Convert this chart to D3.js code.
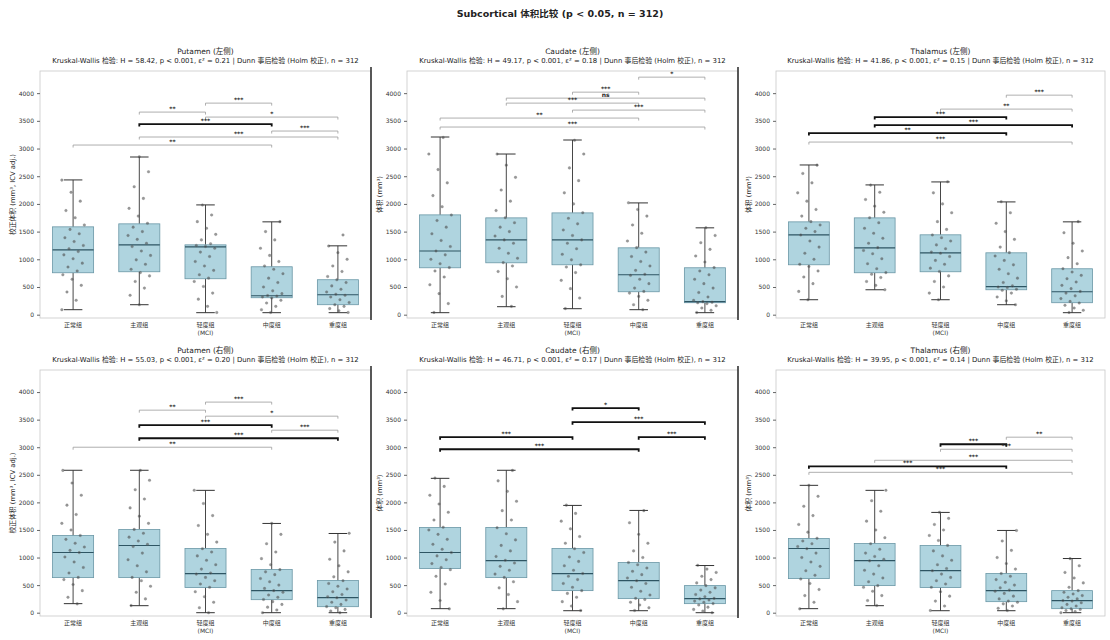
<!DOCTYPE html>
<html><head><meta charset="utf-8">
<script src="https://cdn.jsdelivr.net/npm/d3@7"></script>
<style>body{margin:0;background:#fff} text{font-family:"DejaVu Sans","Noto Sans CJK SC",sans-serif}</style>
</head><body><svg id="c" width="1110" height="640"></svg>
<script>
const mainTitle = "Subcortical 体积比较 (p < 0.05, n = 312)";
const groups = ["正常组", "主观组", "轻度组", "中度组", "重度组"];
const groupSub = ["", "", "(MCI)", "", ""];
const panelNames = ["Putamen (左侧)", "Caudate (左侧)", "Thalamus (左侧)", "Putamen (右侧)", "Caudate (右侧)", "Thalamus (右侧)"];
const panelStats = [
  "Kruskal-Wallis 检验: H = 58.42, p < 0.001, ε² = 0.21 | Dunn 事后检验 (Holm 校正), n = 312",
  "Kruskal-Wallis 检验: H = 49.17, p < 0.001, ε² = 0.18 | Dunn 事后检验 (Holm 校正), n = 312",
  "Kruskal-Wallis 检验: H = 41.86, p < 0.001, ε² = 0.15 | Dunn 事后检验 (Holm 校正), n = 312",
  "Kruskal-Wallis 检验: H = 55.03, p < 0.001, ε² = 0.20 | Dunn 事后检验 (Holm 校正), n = 312",
  "Kruskal-Wallis 检验: H = 46.71, p < 0.001, ε² = 0.17 | Dunn 事后检验 (Holm 校正), n = 312",
  "Kruskal-Wallis 检验: H = 39.95, p < 0.001, ε² = 0.14 | Dunn 事后检验 (Holm 校正), n = 312"
];
const yLabels = ["校正体积 (mm³, ICV adj.)", "体积 (mm³)", "体积 (mm³)", "校正体积 (mm³, ICV adj.)", "体积 (mm³)", "体积 (mm³)"];
const yTicks = [0, 500, 1000, 1500, 2000, 2500, 3000, 3500, 4000];

// box statistics per panel, per group
const q1 = [
  [757, 775, 649, 306, 180], [847, 937, 901, 414, 216], [901, 757, 775, 450, 216],
  [636, 636, 455, 236, 109], [800, 636, 400, 255, 164], [618, 491, 455, 200, 73]];
const med = [
  [1171, 1261, 1225, 342, 360], [1150, 1352, 1352, 721, 234], [1442, 1207, 1117, 505, 414],
  [1091, 1218, 709, 400, 273], [1091, 945, 709, 582, 255], [1164, 945, 764, 400, 218]];
const q3 = [
  [1586, 1640, 1261, 865, 631], [1802, 1748, 1838, 1207, 847], [1676, 1748, 1442, 1117, 829],
  [1400, 1509, 1164, 782, 582], [1545, 1545, 1164, 909, 491], [1345, 1254, 1218, 709, 400]];
const whiskLo = [
  [90, 180, 36, 36, 36], [36, 144, 108, 90, 36], [270, 450, 270, 180, 36],
  [164, 127, 0, 0, 0], [73, 73, 36, 36, 0], [73, 127, 36, 36, 0]];
const whiskHi = [
  [2433, 2847, 1982, 1676, 1243], [3208, 2901, 3154, 2018, 1568], [2703, 2343, 2397, 2036, 1676],
  [2582, 2582, 2218, 1618, 1436], [2436, 2582, 1945, 1854, 855], [2309, 2218, 1818, 1491, 982]];

// individual observations per panel, per group
const points = [
 ["90 260 410 530 640 720 790 860 930 1010 1080 1140 1190 1250 1320 1390 1460 1540 1620 1750 1880 2050 2210 2430",
  "180 350 480 600 700 760 820 910 990 1070 1150 1230 1290 1360 1430 1500 1580 1650 1780 1920 2100 2310 2580 2850",
  "40 150 280 390 510 600 660 720 800 880 960 1050 1130 1200 1230 1250 1280 1350 1450 1560 1680 1800 1980",
  "40 90 150 210 260 300 320 335 345 380 430 500 580 660 740 820 880 960 1070 1200 1350 1500 1680",
  "40 70 110 150 180 220 270 320 350 370 410 460 520 580 630 690 780 880 1000 1120 1240 1440"],
 ["40 200 380 540 680 790 850 920 1000 1080 1150 1230 1340 1460 1580 1700 1800 1950 2150 2380 2620 2900 3200",
  "150 330 500 650 780 880 940 1020 1110 1200 1290 1350 1420 1500 1580 1660 1750 1880 2050 2250 2480 2700 2900",
  "110 300 470 620 760 860 900 990 1090 1190 1290 1350 1430 1530 1640 1740 1840 2000 2200 2420 2650 2900 3150",
  "90 180 260 330 390 420 480 560 640 710 730 800 880 960 1050 1130 1210 1330 1470 1620 1780 1900 2020",
  "40 80 120 160 200 215 225 235 260 320 400 480 560 640 720 790 850 950 1060 1180 1300 1430 1570"],
 ["270 420 560 680 790 870 910 1000 1110 1220 1330 1440 1500 1560 1620 1680 1780 1900 2050 2200 2380 2550 2700",
  "450 530 600 670 730 760 830 920 1010 1100 1160 1210 1290 1380 1470 1560 1660 1750 1850 1960 2080 2210 2340",
  "270 390 500 600 700 780 840 910 980 1050 1110 1130 1190 1260 1330 1390 1440 1540 1680 1840 2000 2200 2400",
  "180 250 320 390 440 460 490 500 520 580 660 740 820 900 980 1060 1120 1220 1360 1500 1650 1840 2040",
  "40 80 120 170 210 240 290 340 390 420 470 530 590 650 710 770 830 920 1030 1150 1290 1480 1680"],
 ["160 280 400 510 600 640 720 820 920 1010 1090 1130 1190 1260 1330 1400 1500 1620 1780 1950 2130 2350 2580",
  "130 250 370 480 580 640 740 850 960 1080 1200 1240 1300 1370 1440 1510 1620 1750 1900 2060 2230 2400 2580",
  "0 90 190 290 380 460 520 580 640 700 720 790 870 950 1030 1100 1160 1280 1420 1580 1760 1980 2220",
  "0 50 100 150 200 240 280 320 370 400 440 500 560 620 690 740 780 870 980 1100 1250 1420 1620",
  "0 30 60 90 110 150 190 230 270 290 330 380 430 480 530 580 650 740 850 970 1120 1280 1440"],
 ["70 220 370 520 660 780 820 890 960 1030 1090 1150 1240 1330 1420 1500 1550 1680 1820 1970 2130 2290 2440",
  "70 200 330 450 560 640 700 770 840 900 950 1020 1120 1220 1320 1430 1540 1680 1850 2020 2200 2390 2580",
  "40 120 200 280 350 400 460 530 600 660 710 770 850 930 1010 1090 1160 1260 1380 1520 1660 1800 1950",
  "40 90 140 190 240 260 320 390 460 530 580 630 690 750 810 870 910 1000 1120 1260 1420 1630 1850",
  "0 30 60 100 140 165 190 210 230 250 260 290 330 370 410 450 490 540 600 660 730 790 860"],
 ["70 190 310 420 530 610 680 760 840 920 1000 1080 1160 1200 1250 1300 1350 1460 1600 1760 1930 2110 2310",
  "130 220 310 390 460 490 560 630 700 770 850 940 970 1020 1080 1150 1250 1360 1500 1660 1840 2030 2220",
  "40 120 210 300 380 460 520 580 640 700 760 800 870 950 1030 1120 1220 1310 1400 1500 1600 1710 1820",
  "40 80 120 160 190 210 250 300 350 390 410 450 500 550 600 660 710 790 890 1000 1130 1300 1490",
  "0 20 40 60 70 90 120 150 180 210 220 250 280 310 340 370 400 460 540 630 730 850 980"]
];

// significance brackets: [groupA, groupB, height (data units), label, bold]
const brackets = [
 [[2,3,3820,"***",0],[1,2,3658,"**",0],[2,4,3568,"*",0],[1,3,3442,"***",1],[3,4,3316,"***",0],[1,4,3208,"***",0],[0,3,3063,"**",0]],
 [[3,4,4289,"*",0],[2,3,4018,"***",0],[1,4,3910,"ns",0],[1,3,3820,"***",0],[2,4,3694,"***",0],[0,3,3550,"**",0],[0,4,3388,"***",0]],
 [[3,4,3964,"***",0],[2,4,3712,"**",0],[1,3,3568,"***",1],[1,4,3424,"***",1],[0,3,3280,"**",1],[0,4,3117,"***",0]],
 [[2,3,3818,"***",0],[1,2,3672,"**",0],[2,4,3563,"*",0],[1,3,3400,"***",1],[3,4,3309,"***",0],[1,4,3163,"***",1],[0,3,3000,"**",0]],
 [[2,3,3709,"*",1],[2,4,3454,"***",1],[0,2,3182,"***",1],[3,4,3182,"***",1],[0,3,2963,"***",1]],
 [[3,4,3182,"**",0],[2,3,3054,"***",1],[2,4,2963,"***",0],[1,4,2763,"***",0],[0,3,2654,"***",1],[0,4,2545,"***",0]]
];

const svg = d3.select("#c");
svg.append("rect").attr("width",1110).attr("height",640).attr("fill","#fff");
svg.append("text").attr("x",560).attr("y",17).attr("text-anchor","middle")
  .attr("font-size",9.5).attr("font-weight","bold").attr("fill","#222").text(mainTitle);

const colX = [[40,371],[407,738],[776,1105]];
const rowY = [[71,318],[370,616]];

for (let p = 0; p < 6; p++) {
  const r = Math.floor(p/3), c = p % 3;
  const x = d3.scaleBand().domain(d3.range(groups.length)).range(colX[c]);
  const y = d3.scaleLinear().domain([-60, 4400]).range([rowY[r][1], rowY[r][0]]);
  const bw = x.bandwidth();
  const g = svg.append("g");
  const [x0, x1] = colX[c], [yT, yB] = rowY[r];

  // frame
  g.append("rect").attr("x",x0).attr("y",yT).attr("width",x1-x0).attr("height",yB-yT)
    .attr("fill","none").attr("stroke","#c8c8c8").attr("stroke-width",0.8);
  if (c < 2) g.append("line").attr("x1",x1).attr("x2",x1).attr("y1",yT-4).attr("y2",yB+2)
    .attr("stroke","#333").attr("stroke-width",1.6);

  // titles
  const cx = (x0+x1)/2;
  g.append("text").attr("x",cx).attr("y",yT-17).attr("text-anchor","middle")
    .attr("font-size",7.5).attr("fill","#222").text(panelNames[p]);
  g.append("text").attr("x",cx).attr("y",yT-8).attr("text-anchor","middle")
    .attr("font-size",6.9).attr("fill","#222").text(panelStats[p]);

  // y axis
  const ya = g.append("g").attr("transform",`translate(${x0},0)`)
    .call(d3.axisLeft(y).tickValues(yTicks).tickFormat(d3.format("d")).tickSize(3).tickPadding(3));
  ya.select(".domain").remove();
  ya.selectAll(".tick line").attr("stroke","#666");
  ya.selectAll(".tick text").attr("font-size",6).attr("fill","#333").attr("font-family",null);

  g.append("text").attr("transform",`translate(${x0-25},${(yT+yB)/2}) rotate(-90)`)
    .attr("text-anchor","middle").attr("font-size",6.8).attr("fill","#222").text(yLabels[p]);

  // x axis
  const xa = g.append("g").attr("transform",`translate(0,${yB})`)
    .call(d3.axisBottom(x).tickSize(0).tickPadding(5).tickFormat(i => groups[i]));
  xa.select(".domain").remove();
  xa.selectAll(".tick text").attr("font-size",6).attr("fill","#333").attr("font-family",null)
    .each(function(i) {
      if (groupSub[i]) d3.select(this).append("tspan").attr("x",0).attr("dy","1.3em").text(groupSub[i]);
    });

  // boxes
  for (let k = 0; k < groups.length; k++) {
    const mx = x(k) + bw/2, half = bw*0.31, cap = bw*0.14;
    g.append("line").attr("x1",mx).attr("x2",mx).attr("y1",y(whiskLo[p][k])).attr("y2",y(q1[p][k]))
      .attr("stroke","#333").attr("stroke-width",0.9);
    g.append("line").attr("x1",mx).attr("x2",mx).attr("y1",y(q3[p][k])).attr("y2",y(whiskHi[p][k]))
      .attr("stroke","#333").attr("stroke-width",0.9);
    [whiskLo[p][k], whiskHi[p][k]].forEach(v => g.append("line")
      .attr("x1",mx-cap).attr("x2",mx+cap).attr("y1",y(v)).attr("y2",y(v))
      .attr("stroke","#333").attr("stroke-width",1));
    g.append("rect").attr("x",mx-half).attr("width",half*2)
      .attr("y",y(q3[p][k])).attr("height",y(q1[p][k])-y(q3[p][k]))
      .attr("fill","#a6cfdc").attr("fill-opacity",0.9).attr("stroke","#6a97a6").attr("stroke-width",0.8);
    g.append("line").attr("x1",mx-half).attr("x2",mx+half).attr("y1",y(med[p][k])).attr("y2",y(med[p][k]))
      .attr("stroke","#2e5563").attr("stroke-width",1.2);
    const vals = points[p][k].split(" ").map(Number);
    g.selectAll(null).data(vals).enter().append("circle")
      .attr("cx",(d,i) => mx + (((i*37 + k*11 + p*5) % 23)/22 - 0.5) * bw*0.34)
      .attr("cy",d => y(d)).attr("r",1.3)
      .attr("fill","#333").attr("fill-opacity",0.5)
      .attr("stroke","#777").attr("stroke-width",0.3);
  }

  // significance brackets
  brackets[p].forEach(([a,b,v,lab,bold]) => {
    const xa1 = x(a)+bw/2, xb1 = x(b)+bw/2, yy = y(v);
    const col = bold ? "#111" : "#9a9a9a", sw = bold ? 1.8 : 0.8;
    g.append("path").attr("d",`M${xa1},${yy+2.5}V${yy}H${xb1}V${yy+2.5}`)
      .attr("fill","none").attr("stroke",col).attr("stroke-width",sw);
    g.append("text").attr("x",(xa1+xb1)/2).attr("y",yy-1.5).attr("text-anchor","middle")
      .attr("font-size",6).attr("font-weight","bold").attr("fill","#222").text(lab);
  });
}
</script></body></html>
